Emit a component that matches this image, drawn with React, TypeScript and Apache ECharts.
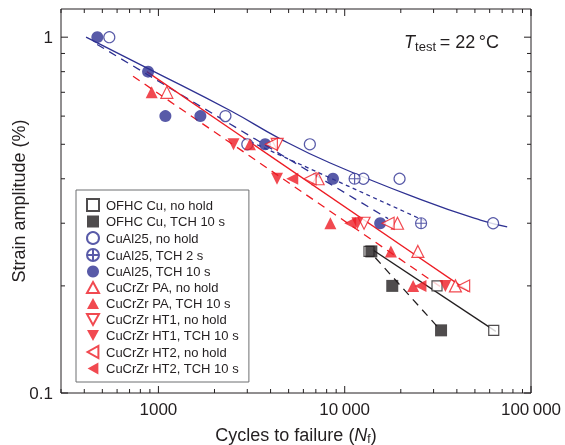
import React, { useEffect, useRef } from 'react';
import * as echarts from 'echarts';

// ---- axis ranges & ticks ----
const X_MIN = 300;
const X_MAX = 100000;
const Y_MIN = 0.1;
const Y_MAX = 1.2;
const xMajorTicks = [1000, 10000, 100000];
const xMinorTicks = [300, 400, 500, 600, 700, 800, 900, 2000, 3000, 4000, 5000, 6000, 7000, 8000, 9000, 20000, 30000, 40000, 50000, 60000, 70000, 80000, 90000];
const yMajorTicks = [0.1, 1];
const yMinorTicks = [0.2, 0.3, 0.4, 0.5, 0.6, 0.7, 0.8, 0.9];
const xTickLabels: Record<string, string> = { '1000': '1000', '10000': '10\u2009000', '100000': '100\u2009000' };
const yTickLabels: Record<string, string> = { '0.1': '0.1', '1': '1' };

// ---- data: [cycles to failure, strain amplitude %] ----
const ofhcNoHold = [[13500, 0.25], [31300, 0.2], [63100, 0.15]];
const ofhcTch10 = [[13900, 0.25], [18000, 0.2], [32900, 0.15]];
const cual25NoHold = [[545, 1.0], [2290, 0.6], [3000, 0.5], [6500, 0.5], [12600, 0.4], [19700, 0.4], [62600, 0.3]];
const cual25Tch2 = [[11300, 0.4], [25700, 0.3]];
const cual25Tch10 = [[470, 1.0], [880, 0.8], [1090, 0.6], [1680, 0.6], [3740, 0.5], [8650, 0.4], [15500, 0.3]];
const pacNoHold = [[1110, 0.7], [7200, 0.4], [19200, 0.3], [24700, 0.25], [39300, 0.2]];
const paTch10 = [[920, 0.7], [3100, 0.5], [8380, 0.3], [17700, 0.25], [23300, 0.2]];
const ht1NoHold = [[4340, 0.5], [12700, 0.3]];
const ht1Tch10 = [[2530, 0.5], [4330, 0.4], [11700, 0.3], [34700, 0.2]];
const ht2NoHold = [[4040, 0.5], [6520, 0.4], [17100, 0.3], [43500, 0.2]];
const ht2Tch10 = [[5230, 0.4], [10700, 0.3], [25500, 0.2]];

// ---- fit lines ----
const cual25NoHoldFit = [[409, 1.0], [903, 0.811], [2427, 0.622], [4507, 0.518], [8360, 0.443], [25460, 0.35], [53500, 0.306], [74500, 0.293]];
const cual25Tch10Fit = [[469, 0.954], [17100, 0.309]];
const cual25Tch2Fit = [[2860, 0.519], [27100, 0.304]];
const cucrzrNoHoldFit = [[866, 0.8], [46300, 0.193]];
const cucrzrTch10Fit = [[731, 0.777], [34500, 0.195]];
const ofhcNoHoldFit = [[14060, 0.253], [64700, 0.149]];
const ofhcTch10Fit = [[14600, 0.24], [31450, 0.1536]];

const RED = '#ed1c24';
const BLUE = '#2e3192';
const BLACK = '#231f20';
const FONT = '"Liberation Sans", Arial, Helvetica, sans-serif';

const SYM_UP = 'path://M10,0L20,18L0,18Z';
const SYM_DOWN = 'path://M0,0L20,0L10,18Z';
const SYM_LEFT = 'path://M18,0L18,20L0,10Z';
const SYM_CROSSCIRCLE = 'path://M10,0A10,10 0 1,1 10,20A10,10 0 1,1 10,0Z M0,10L20,10 M10,0L10,20';

function isPow10(v: number) {
  const l = Math.log10(v);
  return Math.abs(l - Math.round(l)) < 1e-6;
}

export default function App() {
  const ref = useRef<HTMLDivElement>(null);
  useEffect(() => {
    if (!ref.current) return;
    const chart = echarts.init(ref.current, undefined, { renderer: 'svg' });

    const open = (color: string) => ({ color: '#fff', borderColor: color, borderWidth: 1.2 });
    const filled = (color: string) => ({ color, borderWidth: 0 });

    const scatter = (name: string, data: number[][], symbol: string, size: number, itemStyle: any) => ({
      type: 'scatter', name, data, symbol, symbolSize: size, itemStyle, z: 4, silent: true,
      emphasis: { disabled: true },
    });
    const line = (data: number[][], color: string, type: any, smooth = false) => ({
      type: 'line', data, symbol: 'none', smooth, silent: true, z: 3,
      lineStyle: { color, width: 1.3, type }, emphasis: { disabled: true },
    });

    const tickData = [
      ...xMajorTicks.map((v) => [v, Y_MIN, 1, 0]),
      ...xMinorTicks.map((v) => [v, Y_MIN, 0, 0]),
      ...yMajorTicks.map((v) => [X_MIN, v, 1, 1]),
      ...yMinorTicks.map((v) => [X_MIN, v, 0, 1]),
    ];

    const option: any = {
      animation: false,
      textStyle: { fontFamily: FONT, color: BLACK },
      grid: { left: 61, right: 34, top: 9, bottom: 52, show: true, borderColor: BLACK, borderWidth: 1, containLabel: false, outerBoundsMode: 'none' },
      xAxis: {
        type: 'log', logBase: 10, min: X_MIN, max: X_MAX,
        axisLine: { show: false }, axisTick: { show: false }, splitLine: { show: false },
        axisLabel: {
          margin: 8, fontSize: 17, color: BLACK, fontFamily: FONT,
          formatter: (v: number) => (isPow10(v) ? xTickLabels[String(Math.pow(10, Math.round(Math.log10(v))))] || '' : ''),
        },
        name: '{a|Cycles to failure (}{i|N}{s|f}{a|)}',
        nameLocation: 'middle', nameGap: 32, nameMoveOverlap: false,
        nameTextStyle: {
          fontSize: 18, color: BLACK, fontFamily: FONT,
          rich: {
            a: { fontSize: 18, lineHeight: 20, fontFamily: FONT, color: BLACK },
            i: { fontSize: 18, lineHeight: 20, fontStyle: 'italic', fontFamily: FONT, color: BLACK },
            s: { fontSize: 12, lineHeight: 8, verticalAlign: 'bottom', fontFamily: FONT, color: BLACK },
          },
        },
      },
      yAxis: {
        type: 'log', logBase: 10, min: Y_MIN, max: Y_MAX,
        axisLine: { show: false }, axisTick: { show: false }, splitLine: { show: false },
        axisLabel: {
          margin: 8, fontSize: 17, color: BLACK, fontFamily: FONT,
          formatter: (v: number) => {
            if (!isPow10(v)) return '';
            const k = Math.round(Math.log10(v));
            return yTickLabels[k === 0 ? '1' : k === -1 ? '0.1' : ''] || '';
          },
        },
        name: 'Strain amplitude (%)', nameLocation: 'middle', nameGap: 33, nameMoveOverlap: false,
        nameTextStyle: { fontSize: 18, color: BLACK, fontFamily: FONT },
      },
      legend: {
        orient: 'vertical', left: 76, top: 190,
        padding: [8, 10, 7, 10], itemGap: 3, itemWidth: 12, itemHeight: 12,
        borderColor: '#6d6e71', borderWidth: 1, backgroundColor: '#fff',
        selectedMode: false,
        textStyle: { fontSize: 13, lineHeight: 13, color: BLACK, fontFamily: FONT, padding: [0, 0, 0, 2] },
        data: [
          'OFHC Cu, no hold', 'OFHC Cu, TCH 10 s', 'CuAl25, no hold', 'CuAl25, TCH 2 s', 'CuAl25, TCH 10 s',
          'CuCrZr PA, no hold', 'CuCrZr PA, TCH 10 s', 'CuCrZr HT1, no hold', 'CuCrZr HT1, TCH 10 s',
          'CuCrZr HT2, no hold', 'CuCrZr HT2, TCH 10 s',
        ],
      },
      graphic: [
        {
          type: 'text', right: 66, top: 33, silent: true,
          style: {
            text: '{t|T}{s|test}{n|\u2009= 22\u2009°C}',
            fill: BLACK,
            rich: {
              t: { fontSize: 18, lineHeight: 22, fontStyle: 'italic', fontFamily: FONT, fill: BLACK },
              s: { fontSize: 13, lineHeight: 11, verticalAlign: 'bottom', fontFamily: FONT, fill: BLACK },
              n: { fontSize: 18, lineHeight: 22, fontFamily: FONT, fill: BLACK },
            },
          },
        },
      ],
      series: [
        line(cual25NoHoldFit, BLUE, 'solid', true),
        line(cual25Tch10Fit, BLUE, [8, 6]),
        line(cual25Tch2Fit, BLUE, [4, 3.5]),
        line(cucrzrNoHoldFit, RED, 'solid'),
        line(cucrzrTch10Fit, RED, [8, 6]),
        line(ofhcNoHoldFit, BLACK, 'solid'),
        line(ofhcTch10Fit, BLACK, [8, 6]),
        scatter('OFHC Cu, no hold', ofhcNoHold, 'rect', 10, open(BLACK)),
        scatter('OFHC Cu, TCH 10 s', ofhcTch10, 'rect', 12, filled(BLACK)),
        scatter('CuAl25, no hold', cual25NoHold, 'circle', 11, open(BLUE)),
        scatter('CuAl25, TCH 2 s', cual25Tch2, SYM_CROSSCIRCLE, 11, open(BLUE)),
        scatter('CuAl25, TCH 10 s', cual25Tch10, 'circle', 12, filled(BLUE)),
        scatter('CuCrZr PA, no hold', pacNoHold, SYM_UP, 12, open(RED)),
        scatter('CuCrZr PA, TCH 10 s', paTch10, SYM_UP, 12, filled(RED)),
        scatter('CuCrZr HT1, no hold', ht1NoHold, SYM_DOWN, 12, open(RED)),
        scatter('CuCrZr HT1, TCH 10 s', ht1Tch10, SYM_DOWN, 12, filled(RED)),
        scatter('CuCrZr HT2, no hold', ht2NoHold, SYM_LEFT, 12, open(RED)),
        scatter('CuCrZr HT2, TCH 10 s', ht2Tch10, SYM_LEFT, 12, filled(RED)),
        {
          type: 'custom', silent: true, z: 5, clip: false,
          data: tickData,
          encode: { x: 0, y: 1 },
          renderItem: (params: any, api: any) => {
            const axis = api.value(3);
            const len = api.value(2) === 1 ? 7 : 4;
            const style = { stroke: BLACK, lineWidth: 1 };
            if (axis === 0) {
              const v = api.value(0);
              const b = api.coord([v, Y_MIN]);
              const t = api.coord([v, Y_MAX]);
              return {
                type: 'group', children: [
                  { type: 'line', shape: { x1: b[0], y1: b[1], x2: b[0], y2: b[1] - len }, style },
                  { type: 'line', shape: { x1: t[0], y1: t[1], x2: t[0], y2: t[1] + len }, style },
                ],
              };
            }
            const v = api.value(1);
            const l = api.coord([X_MIN, v]);
            const r = api.coord([X_MAX, v]);
            return {
              type: 'group', children: [
                { type: 'line', shape: { x1: l[0], y1: l[1], x2: l[0] + len, y2: l[1] }, style },
                { type: 'line', shape: { x1: r[0], y1: r[1], x2: r[0] - len, y2: r[1] }, style },
              ],
            };
          },
        },
      ],
    };
    chart.setOption(option);
    return () => chart.dispose();
  }, []);
  return <div ref={ref} style={{ position: 'fixed', left: 0, top: 0, width: 565, height: 445 }} />;
}
